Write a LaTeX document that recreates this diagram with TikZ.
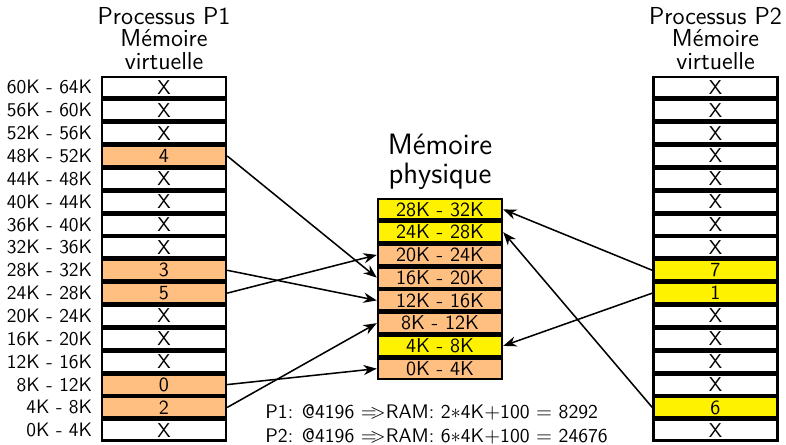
\documentclass[tikz,border=0pt]{standalone}
\usepackage{fontspec}
\renewcommand{\familydefault}{\sfdefault}
\usetikzlibrary{arrows.meta,positioning}

\tikzset{
  page/.style={draw, line width=1.2pt, minimum width=2.13cm, minimum height=0.35cm, inner sep=0pt, font=\fontsize{9.8}{12}\selectfont},
  adr/.style={anchor=east, inner sep=0pt, xshift=-4pt, font=\fontsize{9.5}{12}\selectfont},
  titre/.style={align=center, inner sep=0pt, font=\fontsize{12}{11}\selectfont},
  calcul/.style={anchor=west, inner sep=0pt, font=\fontsize{9.6}{12}\selectfont},
  fleche/.style={-{Stealth[length=6.5pt,width=5pt]}, line width=0.75pt},
}

\begin{document}
\begin{tikzpicture}[x=0.01718cm, y=-0.01718cm]
	\useasboundingbox (0,0) rectangle (786,444);
	% memoire virtuelle P1
	\foreach \i/\col/\c in {0/white/X, 1/white/X, 2/white/X, 3/orange!50/4, 4/white/X, 5/white/X, 6/white/X, 7/white/X,
		8/orange!50/3, 9/orange!50/5, 10/white/X, 11/white/X, 12/white/X, 13/orange!50/0, 14/orange!50/2, 15/white/X} {
		\pgfmathtruncatemacro{\lo}{(15-\i)*4}
		\pgfmathtruncatemacro{\hi}{(16-\i)*4}
		\node (pa\i) [page, fill=\col] at (164, 87.4+22.86*\i) {\c};
		\node (la\i) [adr] at (pa\i.west) {\lo K - \hi K};
	}
	% memoire virtuelle P2
	\foreach \i/\col/\c in {0/white/X, 1/white/X, 2/white/X, 3/white/X, 4/white/X, 5/white/X, 6/white/X, 7/white/X,
		8/yellow/7, 9/yellow/1, 10/white/X, 11/white/X, 12/white/X, 13/white/X, 14/yellow/6, 15/white/X} {
		\node (pb\i) [page, fill=\col] at (715.5, 87.4+22.86*\i) {\c};
	}
	% memoire physique
	\foreach \j/\col in {0/yellow, 1/yellow, 2/orange!50, 3/orange!50, 4/orange!50, 5/orange!50, 6/yellow, 7/orange!50} {
		\pgfmathtruncatemacro{\lo}{(7-\j)*4}
		\pgfmathtruncatemacro{\hi}{(8-\j)*4}
		\node (pm\j) [page, fill=\col] at (440, 209.4+22.75*\j) {\lo K - \hi K};
	}
	\node (ta) [titre, above=3pt of pa0] {Processus P1\\Mémoire\\virtuelle};
	\node (tb) [titre, above=3pt of pb0] {Processus P2\\Mémoire\\virtuelle};
	\node (tm) [titre, font=\fontsize{14.4}{14}\selectfont, above=4pt of pm0] {Mémoire\\physique};
	% correspondances
	\draw[fleche] (pa3.east) -- (pm3.west);
	\draw[fleche] (pa8.east) -- (pm4.west);
	\draw[fleche] (pa9.east) -- (pm2.west);
	\draw[fleche] (pa13.east) -- (pm7.west);
	\draw[fleche] (pa14.east) -- (pm5.west);
	\draw[fleche] (pb8.west) -- (pm0.east);
	\draw[fleche] (pb9.west) -- (pm6.east);
	\draw[fleche] (pb14.west) -- (pm1.east);
	% calcul
	\node (c1) [calcul] at (265, 412) {P1: @4196 $=\!\!>$RAM: 2$*$4K$+$100 $=$ 8292};
	\node (c2) [calcul] at (265, 436) {P2: @4196 $=\!\!>$RAM: 6$*$4K$+$100 $=$ 24676};
\end{tikzpicture}
\end{document}
